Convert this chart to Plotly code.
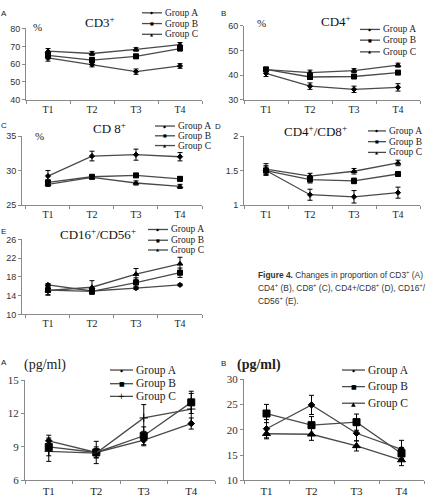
import plotly.graph_objects as go

W, H = 428, 499
times = ["T1", "T2", "T3", "T4"]
groups = ["Group A", "Group B", "Group C"]

# ---- data ----
cd3_a = [63.5, 59.8, 55.8, 59.0]; cd3_a_err = [1.8, 1.3, 1.5, 1.3]
cd3_b = [65.0, 62.3, 64.4, 68.8]; cd3_b_err = [2.0, 1.5, 1.2, 1.2]
cd3_c = [67.3, 66.0, 68.3, 71.0]; cd3_c_err = [1.5, 1.2, 1.0, 1.2]

cd4_a = [40.7, 35.5, 34.2, 35.0]; cd4_a_err = [1.3, 1.3, 1.3, 1.5]
cd4_b = [42.3, 39.2, 39.4, 41.0]; cd4_b_err = [0.8, 1.0, 0.8, 0.7]
cd4_c = [42.2, 41.0, 41.8, 44.0]; cd4_c_err = [0.8, 1.0, 0.8, 0.8]

cd8_a = [29.2, 32.1, 32.3, 32.0]; cd8_a_err = [0.8, 0.7, 0.8, 0.6]
cd8_b = [28.3, 29.1, 29.3, 28.8]; cd8_b_err = [0.3, 0.2, 0.2, 0.3]
cd8_c = [28.0, 29.0, 28.2, 27.7]; cd8_c_err = [0.3, 0.2, 0.3, 0.3]

ratio_a = [1.50, 1.15, 1.12, 1.18]; ratio_a_err = [0.05, 0.08, 0.09, 0.08]
ratio_b = [1.50, 1.37, 1.35, 1.45]; ratio_b_err = [0.07, 0.05, 0.04, 0.03]
ratio_c = [1.52, 1.42, 1.49, 1.61]; ratio_c_err = [0.08, 0.04, 0.04, 0.04]

nk_a = [16.3, 15.0, 15.6, 16.3]; nk_a_err = [0.3, 0.5, 0.3, 0.2]
nk_b = [15.2, 14.9, 16.8, 18.9]; nk_b_err = [1.0, 0.6, 1.0, 1.0]
nk_c = [15.1, 15.8, 18.6, 20.8]; nk_c_err = [1.0, 1.4, 1.2, 1.4]

pgA_a = [9.55, 8.5, 9.6, 11.1]; pgA_a_err = [0.5, 0.5, 0.5, 0.5]
pgA_b = [9.0, 8.5, 10.0, 13.0]; pgA_b_err = [0.8, 1.0, 0.8, 1.0]
pgA_c = [8.6, 8.45, 11.6, 12.4]; pgA_c_err = [0.9, 0.4, 1.2, 1.4]

pgB_a = [20.2, 24.9, 19.3, 16.1]; pgB_a_err = [1.8, 1.9, 1.5, 1.8]
pgB_b = [23.2, 20.9, 21.5, 15.3]; pgB_b_err = [1.8, 1.7, 1.6, 1.2]
pgB_c = [19.2, 19.1, 16.8, 14.0]; pgB_c_err = [1.0, 1.2, 1.0, 1.1]


def fx(p):
    return p / W


def fy(p):
    return 1 - p / H


SERIF = "Liberation Serif"
SANS = "Liberation Sans"
LINE = "#4a4a4a"
AX = "#8a8a8a"

top_markers = [("diamond", 4), ("square", 5), ("triangle-up", 5)]
botA_markers = [("diamond", 5), ("square", 7), ("cross-thin-open", 6)]
botB_markers = [("diamond", 5), ("square", 7), ("triangle-up", 7)]

panels = [
    dict(series=[(cd3_a, cd3_a_err), (cd3_b, cd3_b_err), (cd3_c, cd3_c_err)],
         x=(26, 202), y=(23, 96), yr=[40, 80], dt=10, xr=[-0.5, 3.5], m=top_markers,
         big=False, title="CD3<sup>+</sup>", tpos=(100, 16), letter=("A", 4, 8),
         unit=("%", 31, 22), leg=(142, 162, [7, 18, 29])),
    dict(series=[(cd4_a, cd4_a_err), (cd4_b, cd4_b_err), (cd4_c, cd4_c_err)],
         x=(244, 420), y=(20, 96), yr=[30, 60], dt=10, xr=[-0.5, 3.5], m=top_markers,
         big=False, title="CD4<sup>+</sup>", tpos=(336, 15), letter=("B", 224, 8),
         unit=("%", 255, 17), leg=(360, 380, [24, 35, 47])),
    dict(series=[(cd8_a, cd8_a_err), (cd8_b, cd8_b_err), (cd8_c, cd8_c_err)],
         x=(22, 202), y=(133, 204), yr=[25, 35], dt=5, xr=[-0.59, 3.5], m=top_markers,
         big=False, title="CD 8<sup>+</sup>", tpos=(109, 125), letter=("C", 4, 122),
         unit=("%", 33, 133), leg=(155, 175, [123, 133, 143])),
    dict(series=[(ratio_a, ratio_a_err), (ratio_b, ratio_b_err), (ratio_c, ratio_c_err)],
         x=(244, 420), y=(133, 204), yr=[1, 2], dt=0.5, xr=[-0.5, 3.5], m=top_markers,
         big=False, title="CD4<sup>+</sup>/CD8<sup>+</sup>", tpos=(315, 128), letter=("D", 218, 123),
         unit=None, leg=(368, 386, [128, 139, 150])),
    dict(series=[(nk_a, nk_a_err), (nk_b, nk_b_err), (nk_c, nk_c_err)],
         x=(22, 202), y=(239, 316), yr=[10, 26], dt=4, xr=[-0.59, 3.5], m=top_markers,
         big=False, title="CD16<sup>+</sup>/CD56<sup>+</sup>", tpos=(98, 234), letter=("E", 4, 231),
         unit=None, leg=(148, 168, [229, 240, 250])),
    dict(series=[(pgA_a, pgA_a_err), (pgA_b, pgA_b_err), (pgA_c, pgA_c_err)],
         x=(25, 215), y=(383, 486), yr=[6, 15], dt=3, xr=[-0.5, 3.5], m=botA_markers,
         big=True, title=None, tpos=None, letter=("A", 4, 365),
         unit=("(pg/ml)", 22, 368), leg=(110, 133, [373, 387, 400])),
    dict(series=[(pgB_a, pgB_a_err), (pgB_b, pgB_b_err), (pgB_c, pgB_c_err)],
         x=(244, 424), y=(382, 486), yr=[10, 30], dt=5, xr=[-0.5, 3.5], m=botB_markers,
         big=True, title=None, tpos=None, letter=("B", 224, 366),
         unit=("(pg/ml)", 235, 368), leg=(342, 365, [373, 390, 407])),
]

fig = go.Figure()
layout = dict(width=W, height=H, margin=dict(l=0, r=0, t=0, b=0),
              paper_bgcolor="white", plot_bgcolor="white", showlegend=False)
annotations = []
shapes = []
legend_glyph = {"diamond": "◆", "square": "■", "triangle-up": "▲", "cross-thin-open": "+"}

for i, p in enumerate(panels):
    n = "" if i == 0 else str(i + 1)
    xa, ya = "x" + n, "y" + n
    for (vals, err), g, (sym, sz) in zip(p["series"], groups, p["m"]):
        fig.add_trace(go.Scatter(
            x=times, y=vals, name=g, mode="lines+markers", xaxis=xa, yaxis=ya,
            line=dict(color=LINE, width=1.3),
            marker=dict(symbol=sym, size=sz, color="black", line=dict(color="black", width=1)),
            error_y=dict(type="data", array=err, color="black", thickness=1, width=2.5),
            cliponaxis=False))
    tfs = 11 if p["big"] else 10
    yfs = 11 if p["big"] else 9
    lo, hi = p["yr"]
    layout["xaxis" + n] = dict(
        domain=[fx(p["x"][0]), fx(p["x"][1])], anchor=ya, type="category",
        range=p["xr"], showline=True, linecolor=AX, linewidth=1, showgrid=False,
        zeroline=False, ticks="outside", ticklen=3, tickcolor=AX, tickson="boundaries",
        tickfont=dict(family=SERIF, size=tfs, color="#222"), fixedrange=True)
    layout["yaxis" + n] = dict(
        domain=[fy(p["y"][1]), fy(p["y"][0])], anchor=xa,
        range=[lo, hi + (hi - lo) * 0.003],
        tickmode="linear", tick0=lo, dtick=p["dt"],
        showline=True, linecolor=AX, linewidth=1, showgrid=False, zeroline=False,
        ticks="outside", ticklen=3, tickcolor=AX,
        tickfont=dict(family=SERIF if p["big"] else SANS, size=yfs, color="#333"),
        fixedrange=True)
    if p["title"]:
        annotations.append(dict(text=p["title"], x=fx(p["tpos"][0]), y=fy(p["tpos"][1]),
                                xref="paper", yref="paper", showarrow=False,
                                xanchor="center", yanchor="middle",
                                font=dict(family=SERIF, size=13, color="#111")))
    lt, lx, ly = p["letter"]
    annotations.append(dict(text=lt, x=fx(lx), y=fy(ly), xref="paper", yref="paper",
                            showarrow=False, xanchor="center", yanchor="middle",
                            font=dict(family=SANS, size=8, color="#222")))
    if p["unit"]:
        ut, ux, uy = p["unit"]
        annotations.append(dict(text=("<b>%s</b>" % ut) if (p["big"] and i == 6) else ut,
                                x=fx(ux), y=fy(uy), xref="paper", yref="paper",
                                showarrow=False, xanchor="left", yanchor="middle",
                                font=dict(family=SERIF, size=14 if p["big"] else 11, color="#222")))
    l0, l1, rows = p["leg"]
    lfs = 11.5 if p["big"] else 9.5
    for g, ry, (sym, sz) in zip(groups, rows, p["m"]):
        shapes.append(dict(type="line", xref="paper", yref="paper",
                           x0=fx(l0), x1=fx(l1), y0=fy(ry), y1=fy(ry),
                           line=dict(color=LINE, width=1.3)))
        gsize = sz + 2 if sym == "cross-thin-open" else max(sz - 1, 4)
        annotations.append(dict(text=legend_glyph[sym], x=fx((l0 + l1) / 2), y=fy(ry),
                                xref="paper", yref="paper", showarrow=False,
                                xanchor="center", yanchor="middle",
                                font=dict(family="DejaVu Sans", size=gsize, color="black")))
        annotations.append(dict(text=g, x=fx(l1 + 1), y=fy(ry), xref="paper", yref="paper",
                                showarrow=False, xanchor="left", yanchor="middle",
                                font=dict(family=SERIF, size=lfs, color="#222")))

caption = ["<b>Figure 4.</b> Changes in proportion of CD3<sup>+</sup> (A)",
           "CD4<sup>+</sup> (B), CD8<sup>+</sup> (C), CD4+/CD8<sup>+</sup> (D), CD16<sup>+</sup>/",
           "CD56<sup>+</sup> (E)."]
for k, line in enumerate(caption):
    annotations.append(dict(text=line, x=fx(256), y=fy(275 + k * 13.5), xref="paper",
                            yref="paper", showarrow=False, xanchor="left", yanchor="middle",
                            font=dict(family=SANS, size=8.4, color="#333")))

layout["annotations"] = annotations
layout["shapes"] = shapes
fig.update_layout(**layout)
fig.write_html("out.html")
